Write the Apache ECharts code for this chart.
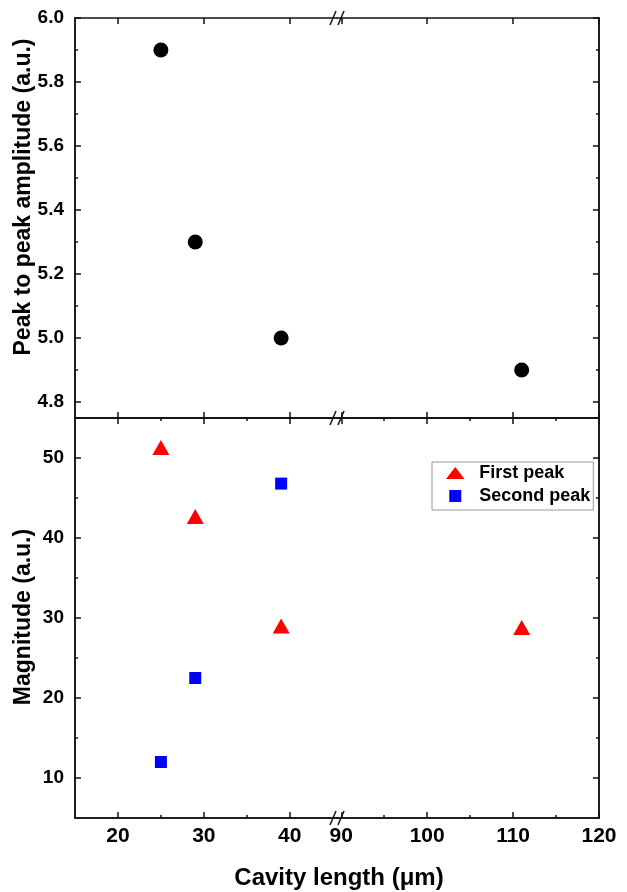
<!DOCTYPE html>
<html>
<head>
<meta charset="utf-8">
<script src="https://cdn.jsdelivr.net/npm/echarts@6/dist/echarts.min.js"></script>
<style>
html,body{margin:0;padding:0;background:#fff;}
#chart{width:627px;height:892px;}
</style>
</head>
<body>
<div id="chart"></div>
<script>
// ---- data ----
const cavityLength = [25, 29, 39, 111];
const peakToPeak = [5.9, 5.3, 5.0, 4.9];
const firstPeak = [51.3, 42.7, 29.0, 28.8];
const secondPeak = [12.0, 22.5, 46.8, null];

const xLeftRange = [15, 45.5];
const xRightRange = [89.5, 120];
const xMajorLeft = [20, 30, 40];
const xMinorLeft = [25, 35];
const xMajorRight = [90, 100, 110, 120];
const xMinorRight = [95, 105, 115];

const yTopRange = [4.75, 6.0];
const yTopMajor = [4.8, 5.0, 5.2, 5.4, 5.6, 5.8, 6.0];
const yTopMinor = [4.9, 5.1, 5.3, 5.5, 5.7, 5.9];
const yBotRange = [5, 55];
const yBotMajor = [10, 20, 30, 40, 50];
const yBotMinor = [15, 25, 35, 45];

const xTitle = 'Cavity length (\u03bcm)';
const yTopTitle = 'Peak to peak amplitude (a.u.)';
const yBotTitle = 'Magnitude (a.u.)';
const seriesNames = ['First peak', 'Second peak'];

// ---- layout ----
const FONT = '"Liberation Sans", Arial, sans-serif';
const L = 75, HW = 262, T = 18, PH = 400;
const lineStyle = {color: '#111', width: 1.5};

const grids = [
  {left: L, top: T, width: HW, height: PH},
  {left: L + HW, top: T, width: HW, height: PH},
  {left: L, top: T + PH, width: HW, height: PH},
  {left: L + HW, top: T + PH, width: HW, height: PH}
].map(g => Object.assign({outerBoundsMode: 'none', containLabel: false}, g));

const xAxes = [], yAxes = [];
function addX(gi, range, pos, ticks, len, labels) {
  xAxes.push({
    type: 'value', gridIndex: gi, min: range[0], max: range[1], position: pos,
    axisLine: {show: true, onZero: false, lineStyle: lineStyle},
    axisTick: {show: true, inside: true, length: len, customValues: ticks, lineStyle: lineStyle},
    axisLabel: labels ? {show: true, customValues: ticks, color: '#000', fontFamily: FONT,
      fontWeight: 'bold', fontSize: 21, margin: 8} : {show: false},
    splitLine: {show: false}
  });
  return xAxes.length - 1;
}
function addY(gi, range, pos, ticks, len, labels, fmt) {
  yAxes.push({
    type: 'value', gridIndex: gi, min: range[0], max: range[1], position: pos,
    axisLine: {show: true, onZero: false, lineStyle: lineStyle},
    axisTick: {show: true, inside: true, length: len, customValues: ticks, lineStyle: lineStyle},
    axisLabel: labels ? {show: true, customValues: ticks, color: '#000', fontFamily: FONT,
      fontWeight: 'bold', fontSize: 19, margin: 11, formatter: fmt} : {show: false},
    splitLine: {show: false}
  });
  return yAxes.length - 1;
}

const panelDefs = [
  {gi: 0, xr: xLeftRange, maj: xMajorLeft, min: xMinorLeft, yr: yTopRange, ymaj: yTopMajor, ymin: yTopMinor, side: 'left', top: true, fmt: v => v.toFixed(1)},
  {gi: 1, xr: xRightRange, maj: xMajorRight, min: xMinorRight, yr: yTopRange, ymaj: yTopMajor, ymin: yTopMinor, side: 'right', top: true, fmt: v => v.toFixed(1)},
  {gi: 2, xr: xLeftRange, maj: xMajorLeft, min: xMinorLeft, yr: yBotRange, ymaj: yBotMajor, ymin: yBotMinor, side: 'left', top: false, fmt: v => String(v)},
  {gi: 3, xr: xRightRange, maj: xMajorRight, min: xMinorRight, yr: yBotRange, ymaj: yBotMajor, ymin: yBotMinor, side: 'right', top: false, fmt: v => String(v)}
];
const axisIdx = [];
panelDefs.forEach(p => {
  let xMain;
  if (p.top) {
    xMain = addX(p.gi, p.xr, 'bottom', p.maj, 6, false);
    addX(p.gi, p.xr, 'top', p.maj, 6, false);
  } else {
    xMain = addX(p.gi, p.xr, 'bottom', p.maj, 6, true);
    addX(p.gi, p.xr, 'bottom', p.min, 3, false);
    addX(p.gi, p.xr, 'top', p.maj, 6, false);
    addX(p.gi, p.xr, 'top', p.min, 3, false);
  }
  const yMain = addY(p.gi, p.yr, p.side, p.ymaj, 6, p.side === 'left', p.fmt);
  addY(p.gi, p.yr, p.side, p.ymin, 3, false);
  axisIdx[p.gi] = {x: xMain, y: yMain};
});

function pick(xs, ys, range) {
  const out = [];
  xs.forEach((x, i) => {
    if (ys[i] != null && x >= range[0] && x <= range[1]) out.push([x, ys[i]]);
  });
  return out;
}

const series = [];
[[0, xLeftRange], [1, xRightRange]].forEach(([gi, r]) => {
  series.push({
    name: 'Peak to peak', type: 'scatter', xAxisIndex: axisIdx[gi].x, yAxisIndex: axisIdx[gi].y,
    symbol: 'circle', symbolSize: 15, itemStyle: {color: '#000', opacity: 1},
    data: pick(cavityLength, peakToPeak, r)
  });
});
const triPath = 'path://M8.5,0 L17,11 L0,11 Z';
const sqPath = 'path://M0,0 L12,0 L12,12 L0,12 Z';
[[2, xLeftRange], [3, xRightRange]].forEach(([gi, r]) => {
  series.push({
    name: seriesNames[0], type: 'scatter', xAxisIndex: axisIdx[gi].x, yAxisIndex: axisIdx[gi].y,
    symbol: 'triangle', symbolSize: [17, 15], itemStyle: {color: '#ff0000', opacity: 1},
    data: pick(cavityLength, firstPeak, r)
  });
  const sq = pick(cavityLength, secondPeak, r);
  if (sq.length) series.push({
    name: seriesNames[1], type: 'scatter', xAxisIndex: axisIdx[gi].x, yAxisIndex: axisIdx[gi].y,
    symbol: 'rect', symbolSize: 12, itemStyle: {color: '#0000ff', opacity: 1},
    data: sq
  });
});

// break marks and titles
const graphics = [];
const jx = L + HW;
[T, T + PH, T + 2 * PH].forEach(y => {
  [-4, 4].forEach(dx => {
    graphics.push({type: 'line', shape: {x1: jx + dx - 3, y1: y + 7, x2: jx + dx + 3, y2: y - 7},
      style: {stroke: '#111', lineWidth: 1.5}, z: 100});
  });
});
graphics.push({type: 'text', x: L + HW + 2, y: 878, style: {text: xTitle, fontFamily: FONT, fontWeight: 'bold',
  fontSize: 24, fill: '#000', textAlign: 'center', textVerticalAlign: 'middle'}});
graphics.push({type: 'text', x: 24, y: 197, rotation: Math.PI / 2, style: {text: yTopTitle, fontFamily: FONT,
  fontWeight: 'bold', fontSize: 23, fill: '#000', textAlign: 'center', textVerticalAlign: 'middle'}});
graphics.push({type: 'text', x: 24, y: 617, rotation: Math.PI / 2, style: {text: yBotTitle, fontFamily: FONT,
  fontWeight: 'bold', fontSize: 23, fill: '#000', textAlign: 'center', textVerticalAlign: 'middle'}});

const chart = echarts.init(document.getElementById('chart'), null, {renderer: 'canvas'});
chart.setOption({
  animation: false,
  backgroundColor: '#fff',
  grid: grids,
  xAxis: xAxes,
  yAxis: yAxes,
  legend: {
    show: true, orient: 'vertical', left: 432, top: 462,
    data: [{name: seriesNames[0], icon: triPath}, {name: seriesNames[1], icon: sqPath}],
    itemWidth: 38, itemHeight: 12, itemGap: 5,
    padding: [2, 3, 5, 14],
    borderColor: '#999', borderWidth: 1,
    textStyle: {fontFamily: FONT, fontWeight: 'bold', fontSize: 18, color: '#000', lineHeight: 18},
    selectedMode: false
  },
  graphic: graphics,
  series: series
});
</script>
</body>
</html>
